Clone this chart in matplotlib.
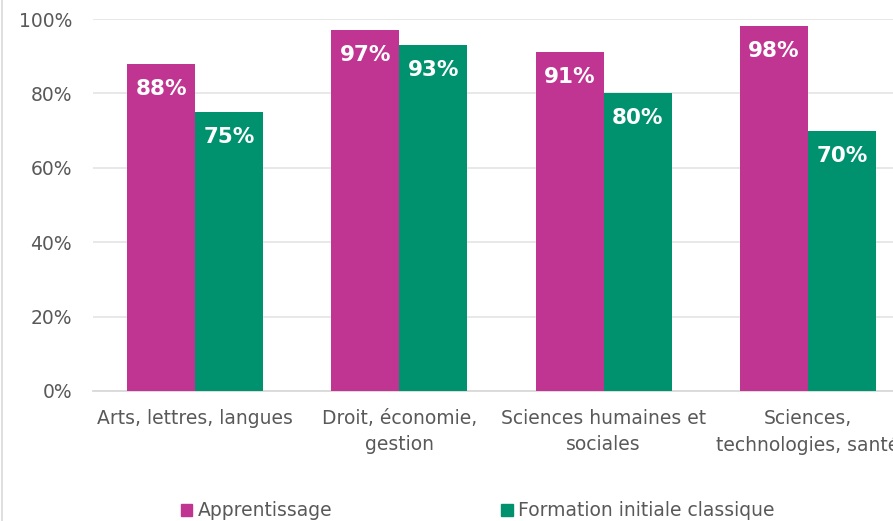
import matplotlib.pyplot as plt
import numpy as np
from matplotlib.patches import Patch
from matplotlib.lines import Line2D

categories = ["Arts, lettres, langues", "Droit, économie,\ngestion",
              "Sciences humaines et\nsociales", "Sciences,\ntechnologies, santé"]
apprentissage = [88, 97, 91, 98]
formation = [75, 93, 80, 70]
series_names = ["Apprentissage", "Formation initiale classique"]

MAGENTA = "#BF3591"
GREEN = "#00926E"
GREY = "#595959"

fig = plt.figure(figsize=(8.93, 5.21), dpi=100)
ax = fig.add_axes([93 / 893, 130 / 521, 817 / 893, 372 / 521])

x = np.arange(len(categories))
w = 0.333
b1 = ax.bar(x - w / 2, apprentissage, w, color=MAGENTA, zorder=3)
b2 = ax.bar(x + w / 2, formation, w, color=GREEN, zorder=3)

# labels blancs en haut de chaque barre
for bars, vals in ((b1, apprentissage), (b2, formation)):
    for bar, v in zip(bars, vals):
        ax.annotate(f"{v}%", (bar.get_x() + bar.get_width() / 2, v),
                    xytext=(0, -25), textcoords="offset pixels",
                    ha="center", va="center", color="white",
                    fontsize=15.5, fontweight="bold", zorder=4)

ax.set_xlim(-0.5, 3.5)
ax.set_ylim(0, 100)
ax.set_yticks(range(0, 101, 20))
ax.set_yticklabels([f"{t}%" for t in range(0, 101, 20)])
ax.set_xticks(x)
ax.set_xticklabels(categories, linespacing=1.45)
ax.tick_params(axis="both", length=0, labelsize=13.5, colors=GREY)
ax.tick_params(axis="y", pad=15)
ax.tick_params(axis="x", pad=13)
ax.grid(axis="y", color="#E6E6E6", linewidth=1.3, zorder=0)
for s in ("top", "right", "left"):
    ax.spines[s].set_visible(False)
ax.spines["bottom"].set_color("#D9D9D9")
ax.spines["bottom"].set_linewidth(1.3)

fig.add_artist(Line2D([2 / 893, 2 / 893], [0, 1], color="#D9D9D9", linewidth=1.2))

handles = [Patch(color=MAGENTA), Patch(color=GREEN)]
fig.legend(handles, series_names, loc="center", bbox_to_anchor=(478 / 893, 1 - 511 / 521),
           ncol=2, frameon=False, fontsize=13.5, labelcolor=GREY,
           handlelength=0.6, handleheight=0.6, handletextpad=0.3, columnspacing=9.0)

fig.savefig("out.png", dpi=100)
